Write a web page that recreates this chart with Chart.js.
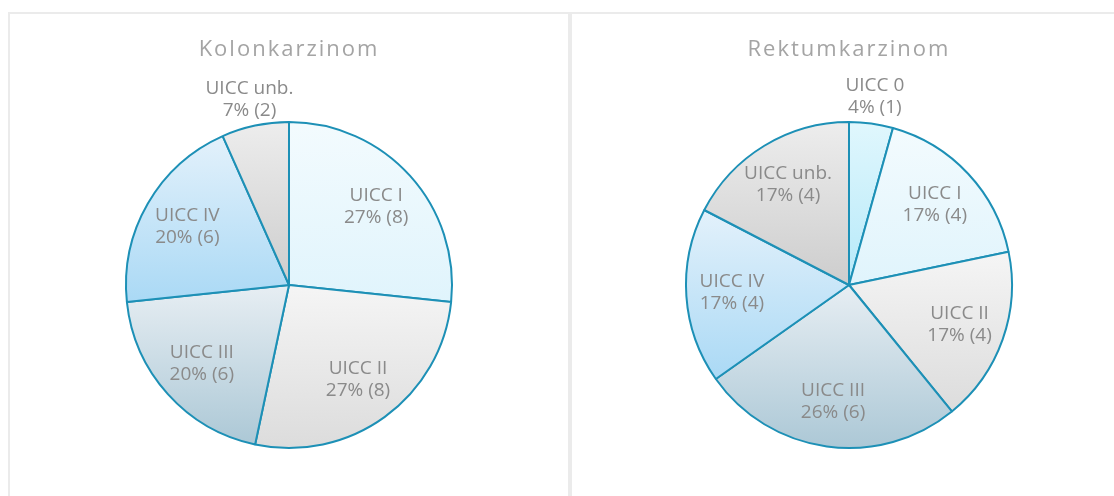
<!DOCTYPE html>
<html>
<head>
<meta charset="utf-8">
<script src="https://cdn.jsdelivr.net/npm/chart.js@4/dist/chart.umd.min.js"></script>
<style>
    html, body { margin: 0; padding: 0; background: #fff; overflow: hidden; width: 1114px; height: 496px; }
    .panel { position: absolute; top: 12px; height: 520px; border: 2px solid #ebebeb; box-sizing: border-box; }
    #panelLeft { left: 8px; width: 562px; }
    #panelRight { left: 570px; width: 558px; }
    .box { position: absolute; left: 0; top: 0; height: 482px; }
    #panelLeft .box { width: 558px; }
    #panelRight .box { width: 554px; }
</style>
</head>
<body>
<div class="panel" id="panelLeft"><div class="box"><canvas id="kolonChart"></canvas></div></div>
<div class="panel" id="panelRight"><div class="box"><canvas id="rektumChart"></canvas></div></div>
<script>
// Daten
const kolonTitle = 'Kolonkarzinom';
const kolonLabels = ['UICC I', 'UICC II', 'UICC III', 'UICC IV', 'UICC unb.'];
const kolonValues = [8, 8, 6, 6, 2];

const rektumTitle = 'Rektumkarzinom';
const rektumLabels = ['UICC 0', 'UICC I', 'UICC II', 'UICC III', 'UICC IV', 'UICC unb.'];
const rektumValues = [1, 4, 4, 6, 4, 4];

// Farbverlauf je Stadium (oben, unten)
const sliceColors = {
    'UICC 0':    ['#e0f7fd', '#b6e9f9'],
    'UICC I':    ['#f3fbfe', '#e0f4fc'],
    'UICC II':   ['#f5f5f5', '#dcdcdc'],
    'UICC III':  ['#e7eef3', '#acc8d6'],
    'UICC IV':   ['#e3f1fb', '#aad9f5'],
    'UICC unb.': ['#ededed', '#cdcdcd']
};

// vertikaler Verlauf über die Höhe des jeweiligen Segments
function sliceGradient(ctx) {
    const chart = ctx.chart;
    const area = chart.chartArea;
    const label = chart.data.labels[ctx.dataIndex];
    const cols = sliceColors[label];
    if (!area) return cols[1];
    const data = ctx.dataset.data;
    const total = data.reduce((a, b) => a + b, 0);
    let cum = 0;
    for (let i = 0; i < ctx.dataIndex; i++) cum += data[i];
    const a0 = -Math.PI / 2 + 2 * Math.PI * cum / total;
    const a1 = a0 + 2 * Math.PI * data[ctx.dataIndex] / total;
    const cy = (area.top + area.bottom) / 2;
    const r = (Math.min(area.width, area.height) - 2) / 2;
    let minY = Math.min(cy, cy + r * Math.sin(a0), cy + r * Math.sin(a1));
    let maxY = Math.max(cy, cy + r * Math.sin(a0), cy + r * Math.sin(a1));
    if (a0 <= Math.PI / 2 && a1 >= Math.PI / 2) maxY = cy + r;
    if (a0 <= -Math.PI / 2 + 1e-9 || a1 >= 1.5 * Math.PI - 1e-9) minY = cy - r;
    const g = chart.ctx.createLinearGradient(0, minY, 0, maxY);
    g.addColorStop(0, cols[0]);
    g.addColorStop(1, cols[1]);
    return g;
}

// Beschriftungen: Name, Prozent und Anzahl
const sliceLabels = {
    id: 'sliceLabels',
    beforeDraw(chart) {
        chart.ctx.letterSpacing = '2px';   // nur für den Titel
    },
    beforeDatasetsDraw(chart) {
        chart.ctx.letterSpacing = '0px';
    },
    afterDatasetsDraw(chart) {
        const ctx = chart.ctx;
        const data = chart.data.datasets[0].data;
        const total = data.reduce((a, b) => a + b, 0);
        ctx.save();
        ctx.font = '19px "Open Sans"';
        ctx.fillStyle = '#8a8a8a';
        ctx.textAlign = 'center';
        ctx.textBaseline = 'middle';
        chart.getDatasetMeta(0).data.forEach((arc, i) => {
            const pct = data[i] / total;
            const mid = (arc.startAngle + arc.endAngle) / 2;
            const dist = pct < 0.1 ? arc.outerRadius + 27 : arc.outerRadius * 0.72;
            const x = arc.x + Math.cos(mid) * dist;
            const y = arc.y + Math.sin(mid) * dist;
            ctx.fillText(chart.data.labels[i], x, y - 11);
            ctx.fillText(Math.round(pct * 100) + '% (' + data[i] + ')', x, y + 11);
        });
        ctx.restore();
    }
};

function makePie(id, title, labels, values) {
    new Chart(document.getElementById(id), {
        type: 'pie',
        data: {
            labels: labels,
            datasets: [{
                data: values,
                backgroundColor: sliceGradient,
                borderColor: '#1d90b6',
                borderWidth: 2
            }]
        },
        options: {
            responsive: true,
            maintainAspectRatio: false,
            animation: false,
            layout: { padding: { top: 0, bottom: 47, left: 0, right: 0 } },
            plugins: {
                legend: { display: false },
                tooltip: { enabled: false },
                title: {
                    display: true,
                    text: title,
                    color: '#a4a4a4',
                    font: { family: '"Open Sans"', size: 22, weight: 'normal', lineHeight: 1.2 },
                    padding: { top: 22.8, bottom: 57.8 }
                }
            }
        },
        plugins: [sliceLabels]
    });
}

makePie('kolonChart', kolonTitle, kolonLabels, kolonValues);
makePie('rektumChart', rektumTitle, rektumLabels, rektumValues);
</script>
</body>
</html>
